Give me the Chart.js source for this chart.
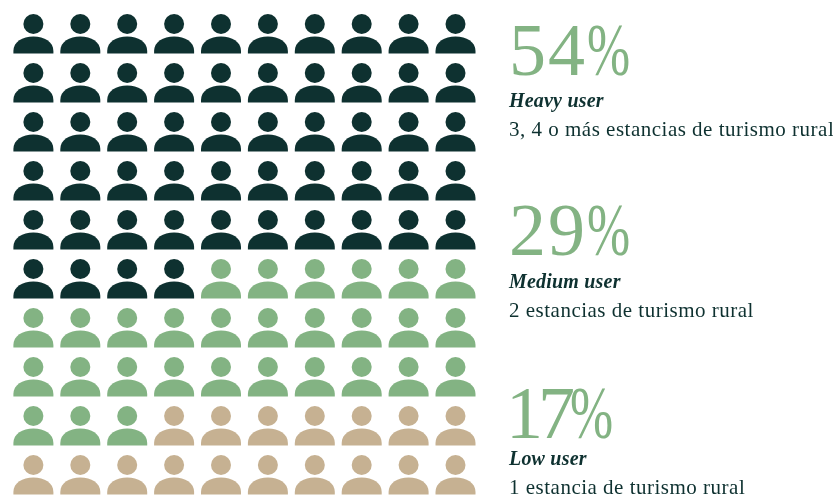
<!DOCTYPE html>
<html>
<head>
<meta charset="utf-8">
<script src="https://cdn.jsdelivr.net/npm/chart.js@4/dist/chart.umd.min.js"></script>
<style>
  html, body { margin: 0; padding: 0; background: #fff; }
  #wrap { position: relative; width: 833px; height: 495px; overflow: hidden; }
  canvas { position: absolute; left: 0; top: 0; }
  .t { position: absolute; white-space: nowrap; font-family: "Liberation Serif", serif; color: #0e3130; line-height: 1; }
  .pct { font-size: 74px; letter-spacing: 2px; color: #83b383; left: 509px; }
  .pct span { display: inline-block; transform: scaleX(0.7); transform-origin: left center; }
  .name { font-size: 20px; font-weight: bold; font-style: italic; left: 509px; letter-spacing: 0.2px; }
  .desc { font-size: 21px; left: 509px; letter-spacing: 0.5px; }
</style>
</head>
<body>
<div id="wrap"><canvas id="chart" width="833" height="495"></canvas></div>
<script>
const SEGMENTS = ['Heavy user', 'Medium user', 'Low user'];
const SHARES = [54, 29, 17];
const DESCRIPTIONS = [
  '3, 4 o más estancias de turismo rural',
  '2 estancias de turismo rural',
  '1 estancia de turismo rural',
];
const COLORS = ['#0e3130', '#83b383', '#c6b192'];
const COLUMNS = 10;
const ROWS = 10;

// tops of the text blocks: big number, name, description
const TEXT_TOPS = [[13, 90, 119], [193, 271, 300], [376, 448, 477]];

// draws the person icon on every point the scales have placed
const personIcons = {
  id: 'personIcons',
  afterDatasetsDraw(chart) {
    const ctx = chart.ctx;
    chart.data.datasets.forEach((ds, i) => {
      ctx.fillStyle = COLORS[i];
      chart.getDatasetMeta(i).data.forEach(pt => {
        const x = pt.x;
        const y = pt.y - 20;
        ctx.beginPath();
        ctx.arc(x, y + 10, 10, 0, Math.PI * 2);
        ctx.fill();
        ctx.beginPath();
        ctx.moveTo(x - 20, y + 39.5);
        ctx.lineTo(x - 20, y + 37);
        ctx.bezierCurveTo(x - 20, y + 28, x - 11, y + 22.6, x, y + 22.6);
        ctx.bezierCurveTo(x + 11, y + 22.6, x + 20, y + 28, x + 20, y + 37);
        ctx.lineTo(x + 20, y + 39.5);
        ctx.closePath();
        ctx.fill();
      });
    });
  },
};

// fill the grid row by row, one dataset per segment
let cell = 0;
const datasets = SEGMENTS.map((label, i) => {
  const data = [];
  for (let n = 0; n < SHARES[i]; n++, cell++) {
    data.push({ x: cell % COLUMNS, y: Math.floor(cell / COLUMNS) });
  }
  return { label, data, pointRadius: 0, pointHoverRadius: 0, clip: false };
});

new Chart(document.getElementById('chart'), {
  type: 'scatter',
  data: { datasets },
  options: {
    responsive: false,
    animation: false,
    layout: { padding: { left: 33.4, right: 377.5, top: 34, bottom: 20 } },
    plugins: { legend: { display: false }, tooltip: { enabled: false } },
    scales: {
      x: { type: 'linear', min: 0, max: COLUMNS - 1, display: false },
      y: { type: 'linear', min: 0, max: ROWS - 1, reverse: true, display: false },
    },
  },
  plugins: [personIcons],
});

const wrap = document.getElementById('wrap');
function addText(cls, text, top) {
  const el = document.createElement('div');
  el.className = 't ' + cls;
  el.style.top = top + 'px';
  el.textContent = text;
  wrap.appendChild(el);
  return el;
}
SEGMENTS.forEach((name, i) => {
  const pct = addText('pct', SHARES[i], TEXT_TOPS[i][0]);
  const sign = document.createElement('span');
  sign.textContent = '%';
  pct.appendChild(sign);
  // the reference font has a narrow 1
  if (SHARES[i] === 17) {
    pct.style.left = '506px';
    pct.style.letterSpacing = '-5px';
  }
  addText('name', name, TEXT_TOPS[i][1]);
  addText('desc', DESCRIPTIONS[i], TEXT_TOPS[i][2]);
});
</script>
</body>
</html>
